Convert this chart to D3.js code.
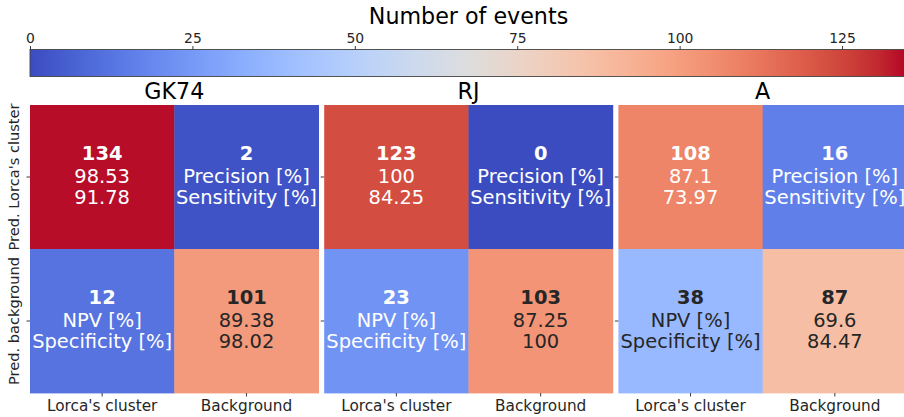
<!DOCTYPE html>
<html><head><meta charset="utf-8">
<script src="https://cdn.jsdelivr.net/npm/d3@7"></script>
<style>
html,body{margin:0;padding:0;background:#fff;}
svg{display:block;font-family:"DejaVu Sans",sans-serif;}
</style></head>
<body><svg id="chart" width="904" height="417"></svg>
<script>
// ---- data ----
const titles = ["GK74", "RJ", "A"];
const colLabels = ["Lorca's cluster", "Background"];
const rowLabels = ["Pred. Lorca's cluster", "Pred. background"];
const truePos = [134, 123, 108];
const falsePos = [2, 0, 16];
const falseNeg = [12, 23, 38];
const trueNeg = [101, 103, 87];
const precision = [98.53, 100, 87.1];
const sensitivity = [91.78, 84.25, 73.97];
const npv = [89.38, 87.25, 69.6];
const specificity = [98.02, 100, 84.47];
const posLabels = ["Precision [%]", "Sensitivity [%]"];
const negLabels = ["NPV [%]", "Specificity [%]"];
const cbTicks = [0, 25, 50, 75, 100, 125];
const cbDomain = [0, 135];
const cbLabel = "Number of events";

// ---- matplotlib coolwarm table ----
const CW = [
[0.2298057,0.298717966,0.753683153],[0.26623388,0.353094838,0.801466763],
[0.30386891,0.406535296,0.84495867],[0.342804478,0.458757618,0.883725899],
[0.38301334,0.50941904,0.917387822],[0.424369608,0.558148092,0.945619588],
[0.46666708,0.604562568,0.968154911],[0.509635204,0.648280772,0.98478814],
[0.552953156,0.688929332,0.995375608],[0.596262162,0.726149107,0.999836203],
[0.639176211,0.759599947,0.998151185],[0.681291281,0.788964712,0.990363227],
[0.722193294,0.813952739,0.976574709],[0.761464949,0.834302879,0.956945269],
[0.798691636,0.849786142,0.931688648],[0.833466556,0.860207984,0.901068838],
[0.865395197,0.86541021,0.865395561],[0.897787179,0.848937047,0.820880546],
[0.924127593,0.827384882,0.774508472],[0.944468518,0.800927443,0.726736146],
[0.958852946,0.769767752,0.678007945],[0.96732803,0.734132809,0.628751763],
[0.969954137,0.694266682,0.579375448],[0.966811177,0.650421156,0.530263762],
[0.958003065,0.602842431,0.481775914],[0.943660866,0.551750968,0.434243684],
[0.923944917,0.49730856,0.387970225],[0.89904617,0.439559467,0.343229596],
[0.869186849,0.378313092,0.300267182],[0.834620542,0.312874446,0.259301199],
[0.795631745,0.24128379,0.220525627],[0.752534934,0.157246067,0.184115123],
[0.705673158,0.01555616,0.150232812]];
function cwFloat(t){
  t = Math.max(0, Math.min(1, t));
  const p = t*(CW.length-1), i = Math.min(Math.floor(p), CW.length-2), f = p-i;
  return [0,1,2].map(k => CW[i][k] + (CW[i+1][k]-CW[i][k])*f);
}
function toCss(c){ return d3.rgb(c[0]*255, c[1]*255, c[2]*255).formatHex(); }
function lum(c){
  const l = c.map(v => v <= 0.03928 ? v/12.92 : Math.pow((v+0.055)/1.055, 2.4));
  return 0.2126*l[0] + 0.7152*l[1] + 0.0722*l[2];
}

const svg = d3.select("#chart");
const TXT = "#262626";
const norm = d3.scaleLinear().domain(cbDomain).range([0,1]);

// ---- layout scales ----
const panelX = d3.scaleBand().domain(titles).range([30, 907]).paddingInner(0.019);
const rowY = d3.scaleBand().domain(rowLabels).range([105, 393]);
const colX = d3.scaleBand().domain(colLabels).range([0, panelX.bandwidth()]);

// ---- colorbar ----
const cbX = d3.scaleLinear().domain(cbDomain).range([30, 907]);
const defs = svg.append("defs");
const grad = defs.append("linearGradient").attr("id","cw").attr("x1","0%").attr("x2","100%");
CW.forEach((c,i) => grad.append("stop").attr("offset", (i/(CW.length-1)*100)+"%").attr("stop-color", toCss(c)));
const cbTop = 49.5, cbH = 27;
svg.append("rect").attr("x", cbX(cbDomain[0])).attr("y", cbTop)
  .attr("width", cbX(cbDomain[1]) - cbX(cbDomain[0])).attr("height", cbH)
  .attr("fill", "url(#cw)").attr("stroke", "#444").attr("stroke-width", 0.9);
const cbAxis = svg.append("g").attr("transform", `translate(0,${cbTop})`)
  .call(d3.axisTop(cbX).tickValues(cbTicks).tickSize(3.5).tickPadding(3.2).tickFormat(d3.format("d")));
cbAxis.select(".domain").remove();
cbAxis.selectAll("line").attr("stroke", TXT).attr("stroke-width", 0.9);
cbAxis.selectAll("text").attr("fill", TXT).style("font-size", "13.9px").style("font-family", '"DejaVu Sans"');
svg.append("text").attr("x", (cbX(cbDomain[0]) + cbX(cbDomain[1]))/2).attr("y", 24.3)
  .attr("text-anchor","middle").attr("fill", "#000").style("font-size","22.2px").text(cbLabel);

// ---- panels ----
titles.forEach((title, p) => {
  const g = svg.append("g").attr("transform", `translate(${panelX(title)},0)`);
  const cells = [
    {r: rowLabels[0], c: colLabels[0], v: truePos[p], lines: [precision[p], sensitivity[p]]},
    {r: rowLabels[0], c: colLabels[1], v: falsePos[p], lines: posLabels},
    {r: rowLabels[1], c: colLabels[0], v: falseNeg[p], lines: negLabels},
    {r: rowLabels[1], c: colLabels[1], v: trueNeg[p], lines: [npv[p], specificity[p]]}
  ];
  cells.forEach(d => {
    const cf = cwFloat(norm(d.v));
    const tc = lum(cf) > 0.408 ? TXT : "#ffffff";
    const x0 = colX(d.c), y0 = rowY(d.r);
    g.append("rect").attr("x", x0).attr("y", y0)
      .attr("width", colX.bandwidth() + 0.4).attr("height", rowY.bandwidth() + 0.4)
      .attr("fill", toCss(cf));
    const cx = x0 + colX.bandwidth()/2, cy = y0 + rowY.bandwidth()/2;
    const t = g.append("text").attr("text-anchor","middle").attr("fill", tc).style("font-size","19.44px");
    t.append("tspan").attr("x", cx).attr("y", cy - 17).style("font-weight","bold").text(d.v);
    t.append("tspan").attr("x", cx).attr("y", cy + 5.8).text(d.lines[0]);
    t.append("tspan").attr("x", cx).attr("y", cy + 27.3).text(d.lines[1]);
  });
  // title
  g.append("text").attr("x", panelX.bandwidth()/2).attr("y", 99)
    .attr("text-anchor","middle").attr("fill","#000").style("font-size","22.2px").text(title);
  // x axis
  const xa = g.append("g").attr("transform", `translate(0,${rowY.range()[1]})`)
    .call(d3.axisBottom(colX).tickSize(3.5).tickPadding(3.5));
  xa.select(".domain").remove();
  xa.selectAll("line").attr("stroke", TXT).attr("stroke-width", 0.9);
  xa.selectAll("text").attr("fill", TXT).style("font-size","15.3px").style("font-family",'"DejaVu Sans"');
  // y axis ticks
  const ya = g.append("g").call(d3.axisLeft(rowY).tickSize(3.5).tickPadding(3.5));
  ya.select(".domain").remove();
  ya.selectAll("line").attr("stroke", TXT).attr("stroke-width", 0.9);
  if (p === 0) {
    ya.selectAll("text").attr("fill", TXT).style("font-size","14.6px").style("font-family",'"DejaVu Sans"')
      .attr("text-anchor","middle").attr("dy", null)
      .attr("transform", "translate(-11.5,0) rotate(-90)")
      .attr("x", 0).attr("y", 0);
  } else {
    ya.selectAll("text").remove();
  }
});
</script>
</body></html>
